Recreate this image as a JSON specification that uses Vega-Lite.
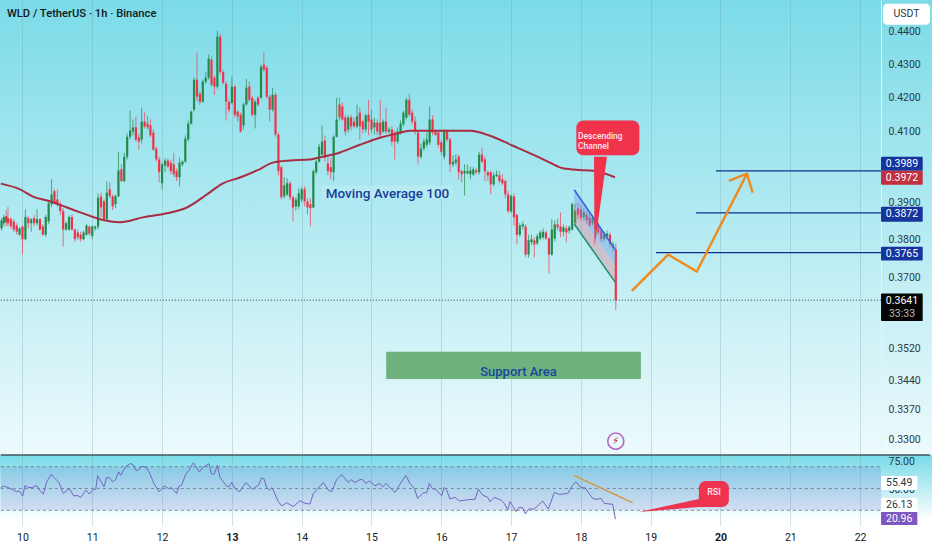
{
  "$schema": "https://vega.github.io/schema/vega-lite/v6.json",
  "background": "#ffffff",
  "padding": {"left": -4, "top": 0, "right": 0, "bottom": 0},
  "spacing": 0,
  "bounds": "flush",
  "config": {"font": "Roboto", "concat": {"spacing": 0}},
  "datasets": {
    "candles": [
      {"t":9.70,"o":0.3830,"h":0.3858,"l":0.3824,"c":0.3852},
      {"t":9.733,"o":0.3844,"h":0.3867,"l":0.3836,"c":0.3861},
      {"t":9.767,"o":0.3864,"h":0.3880,"l":0.3836,"c":0.3847},
      {"t":9.792,"o":0.3858,"h":0.3889,"l":0.3836,"c":0.3844},
      {"t":9.833,"o":0.3855,"h":0.3861,"l":0.3830,"c":0.3836},
      {"t":9.875,"o":0.3849,"h":0.3855,"l":0.3821,"c":0.3827},
      {"t":9.917,"o":0.3838,"h":0.3844,"l":0.3813,"c":0.3821},
      {"t":9.958,"o":0.3813,"h":0.3833,"l":0.3810,"c":0.3830},
      {"t":10.0,"o":0.3835,"h":0.3838,"l":0.3761,"c":0.3801},
      {"t":10.042,"o":0.3801,"h":0.3882,"l":0.3798,"c":0.3861},
      {"t":10.083,"o":0.3858,"h":0.3864,"l":0.3830,"c":0.3844},
      {"t":10.125,"o":0.3844,"h":0.3858,"l":0.3821,"c":0.3855},
      {"t":10.167,"o":0.3858,"h":0.3867,"l":0.3836,"c":0.3844},
      {"t":10.208,"o":0.3844,"h":0.3882,"l":0.3838,"c":0.3855},
      {"t":10.25,"o":0.3855,"h":0.3858,"l":0.3824,"c":0.3827},
      {"t":10.292,"o":0.3835,"h":0.3841,"l":0.3810,"c":0.3813},
      {"t":10.333,"o":0.3813,"h":0.3867,"l":0.3807,"c":0.3861},
      {"t":10.375,"o":0.3849,"h":0.3904,"l":0.3841,"c":0.3899},
      {"t":10.417,"o":0.3896,"h":0.3965,"l":0.3888,"c":0.3923},
      {"t":10.458,"o":0.3932,"h":0.3937,"l":0.3896,"c":0.3901},
      {"t":10.5,"o":0.3909,"h":0.3937,"l":0.3888,"c":0.3896},
      {"t":10.542,"o":0.3896,"h":0.3904,"l":0.3866,"c":0.3877},
      {"t":10.583,"o":0.3877,"h":0.3885,"l":0.3781,"c":0.3827},
      {"t":10.625,"o":0.3827,"h":0.3849,"l":0.3824,"c":0.3844},
      {"t":10.667,"o":0.3827,"h":0.3866,"l":0.3824,"c":0.3861},
      {"t":10.708,"o":0.3861,"h":0.3869,"l":0.3824,"c":0.3827},
      {"t":10.75,"o":0.3827,"h":0.3830,"l":0.3795,"c":0.3801},
      {"t":10.792,"o":0.3819,"h":0.3827,"l":0.3798,"c":0.3806},
      {"t":10.833,"o":0.3813,"h":0.3821,"l":0.3795,"c":0.3801},
      {"t":10.875,"o":0.3801,"h":0.3824,"l":0.3798,"c":0.3819},
      {"t":10.917,"o":0.3813,"h":0.3841,"l":0.3810,"c":0.3838},
      {"t":10.958,"o":0.3835,"h":0.3838,"l":0.3810,"c":0.3816},
      {"t":11.0,"o":0.3810,"h":0.3838,"l":0.3801,"c":0.3835},
      {"t":11.042,"o":0.3830,"h":0.3838,"l":0.3824,"c":0.3835},
      {"t":11.083,"o":0.3835,"h":0.3926,"l":0.3827,"c":0.3914},
      {"t":11.125,"o":0.3917,"h":0.3928,"l":0.3860,"c":0.3887},
      {"t":11.167,"o":0.3904,"h":0.3909,"l":0.3852,"c":0.3855},
      {"t":11.208,"o":0.3855,"h":0.3960,"l":0.3852,"c":0.3928},
      {"t":11.25,"o":0.3937,"h":0.3957,"l":0.3912,"c":0.3918},
      {"t":11.292,"o":0.3918,"h":0.3923,"l":0.3880,"c":0.3890},
      {"t":11.333,"o":0.3896,"h":0.3923,"l":0.3885,"c":0.3918},
      {"t":11.375,"o":0.3918,"h":0.4043,"l":0.3915,"c":0.3990},
      {"t":11.417,"o":0.3993,"h":0.4007,"l":0.3957,"c":0.3960},
      {"t":11.458,"o":0.3960,"h":0.4040,"l":0.3957,"c":0.4029},
      {"t":11.5,"o":0.4029,"h":0.4095,"l":0.4021,"c":0.4086},
      {"t":11.542,"o":0.4086,"h":0.4162,"l":0.4078,"c":0.4104},
      {"t":11.583,"o":0.4101,"h":0.4136,"l":0.4090,"c":0.4113},
      {"t":11.625,"o":0.4113,"h":0.4145,"l":0.4072,"c":0.4078},
      {"t":11.667,"o":0.4084,"h":0.4095,"l":0.4049,"c":0.4072},
      {"t":11.708,"o":0.4078,"h":0.4171,"l":0.4066,"c":0.4130},
      {"t":11.75,"o":0.4130,"h":0.4157,"l":0.4110,"c":0.4116},
      {"t":11.792,"o":0.4124,"h":0.4145,"l":0.4107,"c":0.4113},
      {"t":11.833,"o":0.4119,"h":0.4136,"l":0.4084,"c":0.4090},
      {"t":11.875,"o":0.4098,"h":0.4107,"l":0.4046,"c":0.4049},
      {"t":11.917,"o":0.4052,"h":0.4058,"l":0.4015,"c":0.4021},
      {"t":11.958,"o":0.4021,"h":0.4029,"l":0.3957,"c":0.3985},
      {"t":12.0,"o":0.3954,"h":0.4012,"l":0.3937,"c":0.4007},
      {"t":12.042,"o":0.4004,"h":0.4024,"l":0.3985,"c":0.4018},
      {"t":12.083,"o":0.4018,"h":0.4024,"l":0.3996,"c":0.4001},
      {"t":12.125,"o":0.4012,"h":0.4021,"l":0.3979,"c":0.3988},
      {"t":12.167,"o":0.4007,"h":0.4040,"l":0.3971,"c":0.3979},
      {"t":12.208,"o":0.3988,"h":0.3996,"l":0.3960,"c":0.3971},
      {"t":12.25,"o":0.3971,"h":0.4026,"l":0.3946,"c":0.4012},
      {"t":12.292,"o":0.4007,"h":0.4018,"l":0.4001,"c":0.4015},
      {"t":12.333,"o":0.4015,"h":0.4090,"l":0.4012,"c":0.4081},
      {"t":12.375,"o":0.4078,"h":0.4133,"l":0.4072,"c":0.4124},
      {"t":12.417,"o":0.4124,"h":0.4162,"l":0.4121,"c":0.4159},
      {"t":12.458,"o":0.4165,"h":0.4261,"l":0.4159,"c":0.4254},
      {"t":12.5,"o":0.4254,"h":0.4336,"l":0.4190,"c":0.4203},
      {"t":12.542,"o":0.4212,"h":0.4218,"l":0.4179,"c":0.4188},
      {"t":12.583,"o":0.4188,"h":0.4254,"l":0.4185,"c":0.4248},
      {"t":12.625,"o":0.4248,"h":0.4277,"l":0.4242,"c":0.4260},
      {"t":12.667,"o":0.4260,"h":0.4330,"l":0.4254,"c":0.4317},
      {"t":12.708,"o":0.4314,"h":0.4324,"l":0.4233,"c":0.4239},
      {"t":12.75,"o":0.4260,"h":0.4266,"l":0.4209,"c":0.4233},
      {"t":12.792,"o":0.4233,"h":0.4403,"l":0.4227,"c":0.4385},
      {"t":12.833,"o":0.4385,"h":0.4394,"l":0.4271,"c":0.4277},
      {"t":12.875,"o":0.4277,"h":0.4283,"l":0.4239,"c":0.4245},
      {"t":12.917,"o":0.4242,"h":0.4248,"l":0.4133,"c":0.4188},
      {"t":12.958,"o":0.4188,"h":0.4194,"l":0.4156,"c":0.4165},
      {"t":13.0,"o":0.4185,"h":0.4263,"l":0.4180,"c":0.4233},
      {"t":13.042,"o":0.4233,"h":0.4239,"l":0.4142,"c":0.4150},
      {"t":13.083,"o":0.4159,"h":0.4162,"l":0.4130,"c":0.4145},
      {"t":13.125,"o":0.4150,"h":0.4156,"l":0.4098,"c":0.4101},
      {"t":13.167,"o":0.4119,"h":0.4185,"l":0.4107,"c":0.4180},
      {"t":13.208,"o":0.4180,"h":0.4257,"l":0.4177,"c":0.4230},
      {"t":13.25,"o":0.4233,"h":0.4248,"l":0.4188,"c":0.4194},
      {"t":13.292,"o":0.4200,"h":0.4206,"l":0.4145,"c":0.4150},
      {"t":13.333,"o":0.4150,"h":0.4194,"l":0.4110,"c":0.4188},
      {"t":13.375,"o":0.4200,"h":0.4206,"l":0.4174,"c":0.4180},
      {"t":13.417,"o":0.4200,"h":0.4299,"l":0.4197,"c":0.4293},
      {"t":13.458,"o":0.4299,"h":0.4336,"l":0.4278,"c":0.4284},
      {"t":13.5,"o":0.4290,"h":0.4296,"l":0.4197,"c":0.4203},
      {"t":13.542,"o":0.4203,"h":0.4209,"l":0.4130,"c":0.4165},
      {"t":13.583,"o":0.4165,"h":0.4230,"l":0.4159,"c":0.4209},
      {"t":13.625,"o":0.4209,"h":0.4215,"l":0.4086,"c":0.4092},
      {"t":13.667,"o":0.4092,"h":0.4098,"l":0.3976,"c":0.3988},
      {"t":13.708,"o":0.3999,"h":0.4004,"l":0.3909,"c":0.3915},
      {"t":13.75,"o":0.3918,"h":0.3971,"l":0.3912,"c":0.3948},
      {"t":13.792,"o":0.3923,"h":0.3968,"l":0.3918,"c":0.3954},
      {"t":13.833,"o":0.3954,"h":0.3960,"l":0.3907,"c":0.3915},
      {"t":13.875,"o":0.3915,"h":0.3920,"l":0.3849,"c":0.3887},
      {"t":13.917,"o":0.3890,"h":0.3915,"l":0.3879,"c":0.3909},
      {"t":13.958,"o":0.3890,"h":0.3940,"l":0.3882,"c":0.3926},
      {"t":14.0,"o":0.3909,"h":0.3943,"l":0.3901,"c":0.3937},
      {"t":14.042,"o":0.3937,"h":0.3946,"l":0.3890,"c":0.3904},
      {"t":14.083,"o":0.3904,"h":0.3912,"l":0.3868,"c":0.3887},
      {"t":14.125,"o":0.3896,"h":0.3912,"l":0.3835,"c":0.3885},
      {"t":14.167,"o":0.3887,"h":0.3993,"l":0.3885,"c":0.3988},
      {"t":14.208,"o":0.3985,"h":0.4021,"l":0.3979,"c":0.4015},
      {"t":14.25,"o":0.4015,"h":0.4066,"l":0.4012,"c":0.4057},
      {"t":14.292,"o":0.4035,"h":0.4119,"l":0.4026,"c":0.4072},
      {"t":14.333,"o":0.4075,"h":0.4090,"l":0.4015,"c":0.4026},
      {"t":14.375,"o":0.4010,"h":0.4035,"l":0.3976,"c":0.3988},
      {"t":14.417,"o":0.3999,"h":0.4026,"l":0.3965,"c":0.3985},
      {"t":14.458,"o":0.3985,"h":0.4090,"l":0.3960,"c":0.4086},
      {"t":14.5,"o":0.4086,"h":0.4200,"l":0.4084,"c":0.4136},
      {"t":14.542,"o":0.4180,"h":0.4200,"l":0.4133,"c":0.4142},
      {"t":14.583,"o":0.4174,"h":0.4185,"l":0.4133,"c":0.4136},
      {"t":14.625,"o":0.4142,"h":0.4150,"l":0.4090,"c":0.4101},
      {"t":14.667,"o":0.4107,"h":0.4148,"l":0.4098,"c":0.4142},
      {"t":14.708,"o":0.4142,"h":0.4150,"l":0.4104,"c":0.4116},
      {"t":14.75,"o":0.4130,"h":0.4142,"l":0.4110,"c":0.4116},
      {"t":14.792,"o":0.4116,"h":0.4180,"l":0.4110,"c":0.4145},
      {"t":14.833,"o":0.4156,"h":0.4171,"l":0.4078,"c":0.4116},
      {"t":14.875,"o":0.4130,"h":0.4136,"l":0.4095,"c":0.4107},
      {"t":14.917,"o":0.4107,"h":0.4153,"l":0.4098,"c":0.4148},
      {"t":14.958,"o":0.4150,"h":0.4194,"l":0.4090,"c":0.4130},
      {"t":15.0,"o":0.4136,"h":0.4165,"l":0.4098,"c":0.4107},
      {"t":15.042,"o":0.4113,"h":0.4142,"l":0.4092,"c":0.4127},
      {"t":15.083,"o":0.4127,"h":0.4136,"l":0.4090,"c":0.4101},
      {"t":15.125,"o":0.4127,"h":0.4194,"l":0.4081,"c":0.4092},
      {"t":15.167,"o":0.4101,"h":0.4136,"l":0.4098,"c":0.4130},
      {"t":15.208,"o":0.4130,"h":0.4171,"l":0.4095,"c":0.4101},
      {"t":15.25,"o":0.4101,"h":0.4113,"l":0.4095,"c":0.4107},
      {"t":15.292,"o":0.4107,"h":0.4116,"l":0.4061,"c":0.4072},
      {"t":15.333,"o":0.4098,"h":0.4104,"l":0.4021,"c":0.4072},
      {"t":15.375,"o":0.4072,"h":0.4113,"l":0.4066,"c":0.4101},
      {"t":15.417,"o":0.4098,"h":0.4133,"l":0.4092,"c":0.4124},
      {"t":15.458,"o":0.4122,"h":0.4162,"l":0.4116,"c":0.4156},
      {"t":15.5,"o":0.4142,"h":0.4200,"l":0.4136,"c":0.4194},
      {"t":15.542,"o":0.4194,"h":0.4212,"l":0.4145,"c":0.4150},
      {"t":15.583,"o":0.4156,"h":0.4165,"l":0.4122,"c":0.4130},
      {"t":15.625,"o":0.4130,"h":0.4145,"l":0.4092,"c":0.4101},
      {"t":15.667,"o":0.4098,"h":0.4104,"l":0.4007,"c":0.4029},
      {"t":15.708,"o":0.4029,"h":0.4066,"l":0.4023,"c":0.4052},
      {"t":15.75,"o":0.4052,"h":0.4081,"l":0.4046,"c":0.4072},
      {"t":15.792,"o":0.4063,"h":0.4098,"l":0.4055,"c":0.4078},
      {"t":15.833,"o":0.4070,"h":0.4174,"l":0.4063,"c":0.4136},
      {"t":15.875,"o":0.4136,"h":0.4148,"l":0.4090,"c":0.4098},
      {"t":15.917,"o":0.4101,"h":0.4107,"l":0.4087,"c":0.4092},
      {"t":15.958,"o":0.4098,"h":0.4104,"l":0.4055,"c":0.4063},
      {"t":16.0,"o":0.4070,"h":0.4078,"l":0.4035,"c":0.4043},
      {"t":16.042,"o":0.4029,"h":0.4107,"l":0.4021,"c":0.4101},
      {"t":16.083,"o":0.4101,"h":0.4107,"l":0.4072,"c":0.4078},
      {"t":16.125,"o":0.4078,"h":0.4084,"l":0.3985,"c":0.4007},
      {"t":16.167,"o":0.4007,"h":0.4032,"l":0.3999,"c":0.4015},
      {"t":16.208,"o":0.4012,"h":0.4035,"l":0.4004,"c":0.4021},
      {"t":16.25,"o":0.4029,"h":0.4035,"l":0.3965,"c":0.3985},
      {"t":16.292,"o":0.3988,"h":0.3993,"l":0.3957,"c":0.3979},
      {"t":16.333,"o":0.3982,"h":0.4007,"l":0.3920,"c":0.3988},
      {"t":16.375,"o":0.3982,"h":0.4007,"l":0.3979,"c":0.3988},
      {"t":16.417,"o":0.3979,"h":0.4001,"l":0.3965,"c":0.3990},
      {"t":16.458,"o":0.3979,"h":0.3999,"l":0.3974,"c":0.3993},
      {"t":16.5,"o":0.3990,"h":0.3996,"l":0.3979,"c":0.3985},
      {"t":16.542,"o":0.3985,"h":0.4043,"l":0.3979,"c":0.4035},
      {"t":16.583,"o":0.4035,"h":0.4055,"l":0.4010,"c":0.4015},
      {"t":16.625,"o":0.4021,"h":0.4029,"l":0.3960,"c":0.3988},
      {"t":16.667,"o":0.3985,"h":0.3990,"l":0.3960,"c":0.3976},
      {"t":16.708,"o":0.3985,"h":0.3990,"l":0.3923,"c":0.3951},
      {"t":16.75,"o":0.3951,"h":0.3985,"l":0.3946,"c":0.3976},
      {"t":16.792,"o":0.3974,"h":0.3990,"l":0.3971,"c":0.3979},
      {"t":16.833,"o":0.3976,"h":0.3988,"l":0.3954,"c":0.3960},
      {"t":16.875,"o":0.3965,"h":0.3979,"l":0.3948,"c":0.3954},
      {"t":16.917,"o":0.3960,"h":0.3965,"l":0.3912,"c":0.3923},
      {"t":16.958,"o":0.3923,"h":0.3932,"l":0.3871,"c":0.3877},
      {"t":17.0,"o":0.3877,"h":0.3923,"l":0.3871,"c":0.3918},
      {"t":17.042,"o":0.3918,"h":0.3926,"l":0.3838,"c":0.3860},
      {"t":17.083,"o":0.3866,"h":0.3870,"l":0.3787,"c":0.3813},
      {"t":17.125,"o":0.3813,"h":0.3844,"l":0.3807,"c":0.3838},
      {"t":17.167,"o":0.3835,"h":0.3849,"l":0.3827,"c":0.3841},
      {"t":17.208,"o":0.3835,"h":0.3841,"l":0.3754,"c":0.3760},
      {"t":17.25,"o":0.3760,"h":0.3813,"l":0.3752,"c":0.3798},
      {"t":17.292,"o":0.3793,"h":0.3813,"l":0.3785,"c":0.3801},
      {"t":17.333,"o":0.3798,"h":0.3806,"l":0.3752,"c":0.3787},
      {"t":17.375,"o":0.3790,"h":0.3816,"l":0.3785,"c":0.3809},
      {"t":17.417,"o":0.3803,"h":0.3824,"l":0.3798,"c":0.3819},
      {"t":17.458,"o":0.3806,"h":0.3830,"l":0.3801,"c":0.3821},
      {"t":17.5,"o":0.3819,"h":0.3824,"l":0.3798,"c":0.3803},
      {"t":17.542,"o":0.3803,"h":0.3806,"l":0.3710,"c":0.3760},
      {"t":17.583,"o":0.3760,"h":0.3855,"l":0.3757,"c":0.3827},
      {"t":17.625,"o":0.3803,"h":0.3852,"l":0.3795,"c":0.3841},
      {"t":17.667,"o":0.3841,"h":0.3857,"l":0.3824,"c":0.3833},
      {"t":17.708,"o":0.3835,"h":0.3873,"l":0.3806,"c":0.3821},
      {"t":17.75,"o":0.3821,"h":0.3841,"l":0.3809,"c":0.3833},
      {"t":17.792,"o":0.3830,"h":0.3838,"l":0.3793,"c":0.3819},
      {"t":17.833,"o":0.3824,"h":0.3838,"l":0.3816,"c":0.3833},
      {"t":17.875,"o":0.3827,"h":0.3901,"l":0.3824,"c":0.3896},
      {"t":17.917,"o":0.3844,"h":0.3896,"l":0.3838,"c":0.3879},
      {"t":17.958,"o":0.3885,"h":0.3899,"l":0.3855,"c":0.3866},
      {"t":18.0,"o":0.3882,"h":0.3893,"l":0.3849,"c":0.3858},
      {"t":18.042,"o":0.3861,"h":0.3885,"l":0.3852,"c":0.3874},
      {"t":18.083,"o":0.3868,"h":0.3877,"l":0.3841,"c":0.3852},
      {"t":18.125,"o":0.3860,"h":0.3877,"l":0.3833,"c":0.3838},
      {"t":18.167,"o":0.3844,"h":0.3866,"l":0.3838,"c":0.3858},
      {"t":18.208,"o":0.3855,"h":0.3863,"l":0.3824,"c":0.3830},
      {"t":18.25,"o":0.3838,"h":0.3846,"l":0.3813,"c":0.3819},
      {"t":18.292,"o":0.3824,"h":0.3830,"l":0.3793,"c":0.3801},
      {"t":18.333,"o":0.3801,"h":0.3821,"l":0.3795,"c":0.3813},
      {"t":18.375,"o":0.3809,"h":0.3824,"l":0.3801,"c":0.3816},
      {"t":18.417,"o":0.3813,"h":0.3819,"l":0.3779,"c":0.3788},
      {"t":18.458,"o":0.3779,"h":0.3795,"l":0.3768,"c":0.3787},
      {"t":18.5,"o":0.3774,"h":0.3790,"l":0.3615,"c":0.3641}
    ],
    "ma": [
      {"t":9.69,"p":0.3953},{"t":9.964,"p":0.3937},{"t":10.15,"p":0.3917},{"t":10.394,"p":0.3904},
      {"t":10.638,"p":0.3887},{"t":10.867,"p":0.3871},{"t":11.11,"p":0.3855},{"t":11.397,"p":0.3847},
      {"t":11.726,"p":0.3860},{"t":12.07,"p":0.3871},{"t":12.357,"p":0.3887},{"t":12.643,"p":0.3923},
      {"t":12.872,"p":0.3954},{"t":13.116,"p":0.3970},{"t":13.36,"p":0.3990},{"t":13.59,"p":0.4012},
      {"t":13.83,"p":0.4018},{"t":14.118,"p":0.4021},{"t":14.262,"p":0.4027},{"t":14.549,"p":0.4041},
      {"t":14.835,"p":0.4063},{"t":15.122,"p":0.4083},{"t":15.361,"p":0.4095},{"t":15.552,"p":0.4103},
      {"t":15.881,"p":0.4103},{"t":16.411,"p":0.4103},{"t":16.698,"p":0.4089},{"t":17.027,"p":0.4060},
      {"t":17.314,"p":0.4035},{"t":17.557,"p":0.4012},{"t":17.744,"p":0.3996},{"t":17.987,"p":0.3991},
      {"t":18.173,"p":0.3989},{"t":18.488,"p":0.3971}
    ],
    "gridY": [
      {"p":0.44},{"p":0.43},{"p":0.42},{"p":0.41},{"p":0.40},{"p":0.39},{"p":0.38},{"p":0.37},
      {"p":0.36},{"p":0.352},{"p":0.344},{"p":0.337},{"p":0.33}
    ],
    "levels": [{"t":19.936,"t2":22.3,"p":0.3989},{"t":19.65,"t2":22.3,"p":0.3872},{"t":19.076,"t2":22.3,"p":0.3765}],
    "arrow": [
      {"s":"shaft","t":18.73,"p":0.3665},{"s":"shaft","t":19.25,"p":0.3760},
      {"s":"shaft","t":19.66,"p":0.3715},{"s":"shaft","t":20.38,"p":0.3981},
      {"s":"head","t":20.12,"p":0.3961},{"s":"head","t":20.38,"p":0.3981},{"s":"head","t":20.46,"p":0.3928}
    ],
    "channel": [
      {"s":"top","t":17.905,"p":0.3936},{"s":"top","t":18.493,"p":0.3773},
      {"s":"bottom","t":17.905,"p":0.3842},{"s":"bottom","t":18.493,"p":0.3687}
    ],
    "priceTags": [
      {"label":"0.3989","k":"blue","t":22.3,"t2":22.897,"tm":22.6,"p":0.4029,"p2":0.3989,"pm":0.4009},
      {"label":"0.3972","k":"red","t":22.3,"t2":22.897,"tm":22.6,"p":0.3989,"p2":0.3950,"pm":0.3970},
      {"label":"0.3872","k":"blue","t":22.3,"t2":22.897,"tm":22.6,"p":0.3889,"p2":0.3848,"pm":0.3868},
      {"label":"0.3765","k":"blue","t":22.3,"t2":22.897,"tm":22.6,"p":0.3781,"p2":0.3744,"pm":0.3762},
      {"label":"0.3641","k":"black","t":22.3,"t2":22.897,"tm":22.6,"p":0.3658,"p2":0.3588,"pm":0.3640}
    ],
    "rsi": [
      {"t":9.69,"v":50.8},{"t":9.726,"v":52.7},{"t":9.797,"v":51.1},{"t":9.869,"v":48.1},{"t":9.917,"v":46.2},
      {"t":9.955,"v":47.3},{"t":10.003,"v":41.3},{"t":10.036,"v":53.4},{"t":10.084,"v":51.1},{"t":10.141,"v":51.1},
      {"t":10.203,"v":53.4},{"t":10.251,"v":47.3},{"t":10.299,"v":43.6},{"t":10.347,"v":57.6},{"t":10.413,"v":66.3},
      {"t":10.466,"v":61.4},{"t":10.523,"v":56.8},{"t":10.585,"v":44.3},{"t":10.667,"v":50},{"t":10.738,"v":41.3},
      {"t":10.786,"v":42},{"t":10.834,"v":39.8},{"t":10.91,"v":48.1},{"t":10.958,"v":43.6},{"t":11.015,"v":48.9},
      {"t":11.049,"v":48.9},{"t":11.077,"v":64.8},{"t":11.168,"v":51.9},{"t":11.206,"v":62.5},{"t":11.244,"v":62.5},
      {"t":11.292,"v":57.6},{"t":11.335,"v":60.2},{"t":11.378,"v":69},{"t":11.407,"v":65.2},{"t":11.483,"v":75.4},
      {"t":11.54,"v":78.4},{"t":11.579,"v":77.7},{"t":11.626,"v":70.8},{"t":11.655,"v":70.8},{"t":11.712,"v":75.8},
      {"t":11.779,"v":73.5},{"t":11.813,"v":69},{"t":11.884,"v":55.7},{"t":11.956,"v":46.2},{"t":12.032,"v":53},
      {"t":12.09,"v":50},{"t":12.137,"v":50.8},{"t":12.209,"v":44.3},{"t":12.242,"v":52.7},{"t":12.281,"v":53.8},
      {"t":12.338,"v":66.3},{"t":12.386,"v":70.8},{"t":12.448,"v":79.6},{"t":12.534,"v":69},{"t":12.591,"v":74.6},
      {"t":12.672,"v":78.4},{"t":12.706,"v":67.1},{"t":12.744,"v":65.9},{"t":12.792,"v":76.5},{"t":12.83,"v":62.5},
      {"t":12.868,"v":58.7},{"t":12.925,"v":52.7},{"t":12.964,"v":51.9},{"t":12.997,"v":57.2},{"t":13.045,"v":50},
      {"t":13.107,"v":46.2},{"t":13.202,"v":56.8},{"t":13.293,"v":48.9},{"t":13.379,"v":53.8},{"t":13.427,"v":62.1},
      {"t":13.46,"v":61},{"t":13.498,"v":51.1},{"t":13.537,"v":48.1},{"t":13.575,"v":51.1},{"t":13.666,"v":34.8},
      {"t":13.718,"v":29.9},{"t":13.785,"v":33.7},{"t":13.88,"v":29.2},{"t":13.976,"v":36},{"t":14.048,"v":32.9},
      {"t":14.119,"v":32.2},{"t":14.167,"v":44.3},{"t":14.31,"v":56.8},{"t":14.382,"v":48.1},{"t":14.43,"v":46.2},
      {"t":14.501,"v":60.2},{"t":14.573,"v":65.9},{"t":14.669,"v":56.8},{"t":14.707,"v":60.2},{"t":14.764,"v":56.8},
      {"t":14.836,"v":60.2},{"t":14.874,"v":60.2},{"t":14.917,"v":55.7},{"t":14.97,"v":58.7},{"t":15.05,"v":53},
      {"t":15.122,"v":55.7},{"t":15.16,"v":51.9},{"t":15.208,"v":55.7},{"t":15.337,"v":45.5},{"t":15.49,"v":65.2},
      {"t":15.552,"v":55.7},{"t":15.614,"v":50},{"t":15.662,"v":38.6},{"t":15.743,"v":45.1},{"t":15.791,"v":45.1},
      {"t":15.829,"v":55.7},{"t":15.872,"v":50},{"t":15.92,"v":48.9},{"t":16.006,"v":41.7},{"t":16.039,"v":51.1},
      {"t":16.077,"v":48.1},{"t":16.125,"v":37.9},{"t":16.197,"v":39.8},{"t":16.259,"v":35.6},{"t":16.35,"v":36.7},
      {"t":16.426,"v":37.5},{"t":16.483,"v":37.5},{"t":16.531,"v":49.2},{"t":16.593,"v":42.4},{"t":16.665,"v":39.8},
      {"t":16.698,"v":34.8},{"t":16.76,"v":39.8},{"t":16.856,"v":36.7},{"t":16.903,"v":32.9},{"t":16.951,"v":25.4},
      {"t":16.985,"v":34.8},{"t":17.071,"v":23.5},{"t":17.109,"v":28},{"t":17.166,"v":28},{"t":17.204,"v":20.8},
      {"t":17.252,"v":26.5},{"t":17.333,"v":26.5},{"t":17.452,"v":35.6},{"t":17.534,"v":26.5},{"t":17.62,"v":45.5},
      {"t":17.691,"v":43.2},{"t":17.811,"v":44.3},{"t":17.882,"v":53.8},{"t":17.93,"v":57.6},{"t":18.002,"v":50.8},
      {"t":18.059,"v":50.8},{"t":18.169,"v":38.6},{"t":18.217,"v":37.5},{"t":18.288,"v":38.6},{"t":18.336,"v":32.9},
      {"t":18.455,"v":31.8},{"t":18.494,"v":14.8}
    ],
    "rsiTags": [
      {"label":"55.49","k":"white","t":22.3,"t2":22.82,"tm":22.56,"v":64.3,"v2":48.3,"vm":56.3},
      {"label":"26.13","k":"white","t":22.3,"t2":22.82,"tm":22.56,"v":39.1,"v2":23.05,"vm":31.1},
      {"label":"20.96","k":"purple","t":22.3,"t2":22.82,"tm":22.56,"v":23.05,"v2":8.2,"vm":15}
    ]
  },
  "vconcat": [
    {
      "width": 932,
      "height": 455,
      "view": {
        "stroke": null,
        "fill": {"gradient": "linear", "x1": 0, "y1": 0, "x2": 0, "y2": 1,
          "stops": [{"offset": 0, "color": "#7bdbe8"}, {"offset": 1, "color": "#edfafc"}]}
      },
      "encoding": {
        "x": {"field": "t", "type": "quantitative", "title": null,
          "scale": {"domain": [9.678, 23.03], "nice": false, "zero": false, "padding": 0},
          "axis": {"values": [10,11,12,13,14,15,16,17,18,19,20,21,22], "labels": false, "ticks": false, "domain": false,
            "grid": true, "gridColor": "#6f9fb0", "gridOpacity": 0.3, "gridWidth": 1}},
        "y": {"field": "p", "type": "quantitative", "title": null,
          "scale": {"type": "log", "domain": [0.3264, 0.45], "nice": false, "zero": false},
          "axis": {"orient": "right", "offset": -51, "values": [0.44,0.43,0.42,0.41,0.39,0.38,0.37,0.352,0.344,0.337,0.33],
            "format": ".4f", "grid": false, "ticks": false, "domain": true, "domainColor": "#dff6fa", "domainWidth": 1,
            "labelColor": "#2b3a45", "labelFontSize": 10.5, "labelPadding": 7, "labelAlign": "left", "labelFlush": false, "labelOverlap": false}}
      },
      "layer": [
        {
          "data": {"name": "gridY"},
          "mark": {"type": "rule", "color": "#6f9fb0", "opacity": 0.3, "strokeWidth": 1},
          "encoding": {"x": {"datum": 9.69}, "x2": {"datum": 22.3}}
        },
        {
          "data": {"name": "candles"},
          "mark": {"type": "rule", "strokeWidth": 1, "opacity": 0.75},
          "encoding": {
            "y": {"field": "l", "type": "quantitative", "title": null,
              "scale": {"type": "log", "domain": [0.3264, 0.45], "nice": false, "zero": false}},
            "y2": {"field": "h"},
            "color": {"condition": {"test": "datum.c >= datum.o", "value": "#2c8f50"}, "value": "#ea4a5c"}
          }
        },
        {
          "data": {"name": "candles"},
          "mark": {"type": "bar", "size": 2.2},
          "encoding": {
            "y": {"field": "o", "type": "quantitative", "title": null,
              "scale": {"type": "log", "domain": [0.3264, 0.45], "nice": false, "zero": false}},
            "y2": {"field": "c"},
            "color": {"condition": {"test": "datum.c >= datum.o", "value": "#24894a"}, "value": "#ec3348"}
          }
        },
        {
          "data": {"name": "ma"},
          "mark": {"type": "line", "color": "#a82c42", "strokeWidth": 2, "interpolate": "monotone"}
        },
        {
          "data": {"values": [{"t": 9.69, "t2": 22.3, "p": 0.3641}]},
          "mark": {"type": "rule", "color": "#2b3a45", "strokeWidth": 1, "strokeDash": [1, 2]},
          "encoding": {"x2": {"field": "t2"}}
        },
        {
          "data": {"values": [{"t": 15.21, "t2": 18.86, "p": 0.3511, "p2": 0.3444}]},
          "mark": {"type": "rect", "color": "#70b27e"},
          "encoding": {"x2": {"field": "t2"}, "y2": {"field": "p2"}}
        },
        {
          "data": {"values": [{"t": 17.106, "p": 0.3462, "label": "Support Area"}]},
          "mark": {"type": "text", "color": "#17479e", "font": "Roboto", "fontSize": 13, "fontWeight": 500, "align": "center", "baseline": "middle"},
          "encoding": {"text": {"field": "label"}}
        },
        {
          "data": {"values": [{"t": 14.291, "t2": 16.168, "p": 0.3948, "p2": 0.3912}]},
          "mark": {"type": "rect", "color": "#bcebf2", "opacity": 0.75},
          "encoding": {"x2": {"field": "t2"}, "y2": {"field": "p2"}}
        },
        {
          "data": {"values": [{"t": 15.229, "p": 0.3923, "label": "Moving Average 100"}]},
          "mark": {"type": "text", "color": "#17409c", "font": "Roboto", "fontSize": 13.5, "fontWeight": 500, "align": "center", "baseline": "middle", "letterSpacing": 0.5},
          "encoding": {"text": {"field": "label"}}
        },
        {
          "data": {"values": [{"t": 17.905, "p": 0.3936, "p2": 0.3889}, {"t": 18.493, "p": 0.3773, "p2": 0.3730}]},
          "mark": {"type": "area", "color": "#6e93ea", "opacity": 0.4},
          "encoding": {"y2": {"field": "p2"}}
        },
        {
          "data": {"values": [{"t": 17.905, "p": 0.3889, "p2": 0.3842}, {"t": 18.493, "p": 0.3730, "p2": 0.3687}]},
          "mark": {"type": "area", "color": "#e67f90", "opacity": 0.38},
          "encoding": {"y2": {"field": "p2"}}
        },
        {
          "data": {"name": "channel"},
          "mark": {"type": "line", "strokeWidth": 1.5},
          "encoding": {
            "detail": {"field": "s"},
            "color": {"condition": {"test": "datum.s == 'top'", "value": "#2f62e0"}, "value": "#1f8f6a"}
          }
        },
        {
          "data": {"values": [{"t": 18.188, "t2": 18.374, "p": 0.4029}, {"t": 18.195, "t2": 18.2, "p": 0.3787}]},
          "mark": {"type": "area", "color": "#f0324a", "orient": "horizontal"},
          "encoding": {"x2": {"field": "t2"}}
        },
        {
          "data": {"values": [{"t": 17.935, "t2": 18.838, "p": 0.4133, "p2": 0.4033}]},
          "mark": {"type": "rect", "color": "#f0324a", "cornerRadius": 7},
          "encoding": {"x2": {"field": "t2"}, "y2": {"field": "p2"}}
        },
        {
          "data": {"values": [{"t": 17.958, "p": 0.4088, "label": "Descending"}, {"t": 17.958, "p": 0.4059, "label": "Channel"}]},
          "mark": {"type": "text", "color": "#ffe6ea", "font": "Roboto", "fontSize": 8.5, "fontWeight": 500, "align": "left", "baseline": "middle"},
          "encoding": {"text": {"field": "label"}}
        },
        {
          "data": {"name": "levels"},
          "mark": {"type": "rule", "color": "#0f2f8f", "strokeWidth": 1.3},
          "encoding": {"x2": {"field": "t2"}}
        },
        {
          "data": {"name": "arrow"},
          "mark": {"type": "line", "color": "#ef8a1d", "strokeWidth": 2.4},
          "encoding": {"detail": {"field": "s"}}
        },
        {
          "data": {"values": [{"t": 18.5, "p": 0.3296}]},
          "mark": {"type": "point", "shape": "circle", "filled": false, "color": "#9c27b0", "size": 260, "strokeWidth": 1.5}
        },
        {
          "data": {"values": [{"t": 18.5, "p": 0.3296, "label": "⚡"}]},
          "mark": {"type": "text", "color": "#c2185b", "font": "DejaVu Sans", "fontSize": 10, "align": "center", "baseline": "middle"},
          "encoding": {"text": {"field": "label"}}
        },
        {
          "data": {"values": [{"t": 9.778, "p": 0.4456, "label": "WLD / TetherUS · 1h · Binance"}]},
          "mark": {"type": "text", "color": "#131722", "font": "Roboto", "fontSize": 11.2, "fontWeight": 500, "align": "left", "baseline": "middle"},
          "encoding": {"text": {"field": "label"}}
        },
        {
          "data": {"values": [{"t": 22.329, "t2": 23.002, "p": 0.4488, "p2": 0.4422}]},
          "mark": {"type": "rect", "color": "#ffffff", "cornerRadius": 4},
          "encoding": {"x2": {"field": "t2"}, "y2": {"field": "p2"}}
        },
        {
          "data": {"values": [{"t": 22.665, "p": 0.4455, "label": "USDT"}]},
          "mark": {"type": "text", "color": "#2b3a45", "font": "Roboto", "fontSize": 10.5, "align": "center", "baseline": "middle"},
          "encoding": {"text": {"field": "label"}}
        },
        {
          "data": {"name": "priceTags"},
          "mark": {"type": "rect", "cornerRadius": 1},
          "encoding": {
            "x2": {"field": "t2"},
            "y2": {"field": "p2"},
            "color": {"condition": [
              {"test": "datum.k == 'blue'", "value": "#15349c"},
              {"test": "datum.k == 'red'", "value": "#c2303f"}
            ], "value": "#050505"}
          }
        },
        {
          "data": {"name": "priceTags"},
          "mark": {"type": "text", "color": "#ffffff", "font": "Roboto", "fontSize": 10.5, "align": "center", "baseline": "middle"},
          "encoding": {
            "x": {"field": "tm", "type": "quantitative", "title": null,
              "scale": {"domain": [9.678, 23.03], "nice": false, "zero": false, "padding": 0}},
            "y": {"field": "pm", "type": "quantitative", "title": null,
              "scale": {"type": "log", "domain": [0.3264, 0.45], "nice": false, "zero": false}},
            "text": {"field": "label"}
          }
        },
        {
          "data": {"values": [{"t": 22.6, "p": 0.3606, "label": "33:33"}]},
          "mark": {"type": "text", "color": "#b5b5b5", "font": "Roboto", "fontSize": 10.5, "align": "center", "baseline": "middle"},
          "encoding": {"text": {"field": "label"}}
        }
      ]
    },
    {
      "width": 932,
      "height": 70,
      "view": {
        "stroke": null,
        "fill": {"gradient": "linear", "x1": 0, "y1": 0, "x2": 0, "y2": 1,
          "stops": [{"offset": 0, "color": "#78dbe8"}, {"offset": 0.9, "color": "#fafdfe"}, {"offset": 1, "color": "#ffffff"}]}
      },
      "encoding": {
        "x": {"field": "t", "type": "quantitative", "title": null,
          "scale": {"domain": [9.678, 23.03], "nice": false, "zero": false, "padding": 0},
          "axis": {"values": [10,11,12,13,14,15,16,17,18,19,20,21,22], "format": "d", "ticks": false, "domain": false,
            "grid": true, "gridColor": "#6f9fb0", "gridOpacity": 0.3, "gridWidth": 1,
            "labelColor": "#131722", "labelFontSize": 10.5, "labelPadding": 7, "labelFlush": false,
            "labelFontWeight": {"condition": {"test": "datum.value == 13 || datum.value == 20", "value": "bold"}, "value": "normal"},
            "minExtent": 25, "maxExtent": 25}},
        "y": {"field": "v", "type": "quantitative", "title": null,
          "scale": {"domain": [8.1, 88.4], "nice": false, "zero": false},
          "axis": {"orient": "right", "offset": -51, "values": [75, 50], "format": ".2f", "grid": false, "ticks": false,
            "domain": false, "labelColor": "#2b3a45", "labelFontSize": 10.5, "labelPadding": 7, "labelAlign": "left",
            "labelFlush": false, "labelOverlap": false,
            "labelOffset": {"condition": {"test": "datum.value == 75", "value": -5}, "value": 1}}}
      },
      "layer": [
        {
          "data": {"values": [{"t": 9.69, "t2": 22.3, "v": 75, "v2": 25}]},
          "mark": {"type": "rect", "color": "#6a66c8", "opacity": 0.18},
          "encoding": {"x2": {"field": "t2"}, "y2": {"field": "v2"}}
        },
        {
          "data": {"values": [{"t": 9.69, "t2": 22.3, "v": 75}, {"t": 9.69, "t2": 22.3, "v": 50}, {"t": 9.69, "t2": 22.3, "v": 25}]},
          "mark": {"type": "rule", "color": "#66757f", "strokeWidth": 1, "strokeDash": [3, 3], "opacity": 0.8},
          "encoding": {"x2": {"field": "t2"}}
        },
        {
          "data": {"name": "rsi"},
          "mark": {"type": "line", "color": "#7464c0", "strokeWidth": 1}
        },
        {
          "data": {"values": [{"t": 17.905, "v": 64.7}, {"t": 18.74, "v": 33.7}]},
          "mark": {"type": "line", "color": "#d6963f", "strokeWidth": 1.5}
        },
        {
          "data": {"values": [{"t": 18.83, "v": 23, "v2": 23}, {"t": 19.69, "v": 38, "v2": 28.8}, {"t": 19.8, "v": 38, "v2": 28.8}]},
          "mark": {"type": "area", "color": "#ee3350"},
          "encoding": {"y2": {"field": "v2"}}
        },
        {
          "data": {"values": [{"t": 19.69, "t2": 20.12, "v": 58.6, "v2": 28.8}]},
          "mark": {"type": "rect", "color": "#ee3350", "cornerRadius": 7},
          "encoding": {"x2": {"field": "t2"}, "y2": {"field": "v2"}}
        },
        {
          "data": {"values": [{"t": 19.907, "v": 45.4, "label": "RSI"}]},
          "mark": {"type": "text", "color": "#ffe6ea", "font": "Roboto", "fontSize": 9, "fontWeight": 500, "align": "center", "baseline": "middle"},
          "encoding": {"text": {"field": "label"}}
        },
        {
          "data": {"name": "rsiTags"},
          "mark": {"type": "rect", "cornerRadius": 1},
          "encoding": {
            "x2": {"field": "t2"},
            "y2": {"field": "v2"},
            "color": {"condition": {"test": "datum.k == 'purple'", "value": "#7e57c2"}, "value": "#ffffff"}
          }
        },
        {
          "data": {"values": [{"t": 22.56, "v": 56.3, "label": "55.49"}, {"t": 22.56, "v": 31.1, "label": "26.13"}]},
          "mark": {"type": "text", "color": "#2b3a45", "font": "Roboto", "fontSize": 10.5, "align": "center", "baseline": "middle"},
          "encoding": {"text": {"field": "label"}}
        },
        {
          "data": {"values": [{"t": 22.56, "v": 15, "label": "20.96"}]},
          "mark": {"type": "text", "color": "#ffffff", "font": "Roboto", "fontSize": 10.5, "align": "center", "baseline": "middle"},
          "encoding": {"text": {"field": "label"}}
        },
        {
          "data": {"values": [{"t": 9.69, "t2": 23.0, "v": 88.4}]},
          "mark": {"type": "rule", "color": "#44535e", "strokeWidth": 1.5},
          "encoding": {"x2": {"field": "t2"}}
        }
      ]
    }
  ]
}
